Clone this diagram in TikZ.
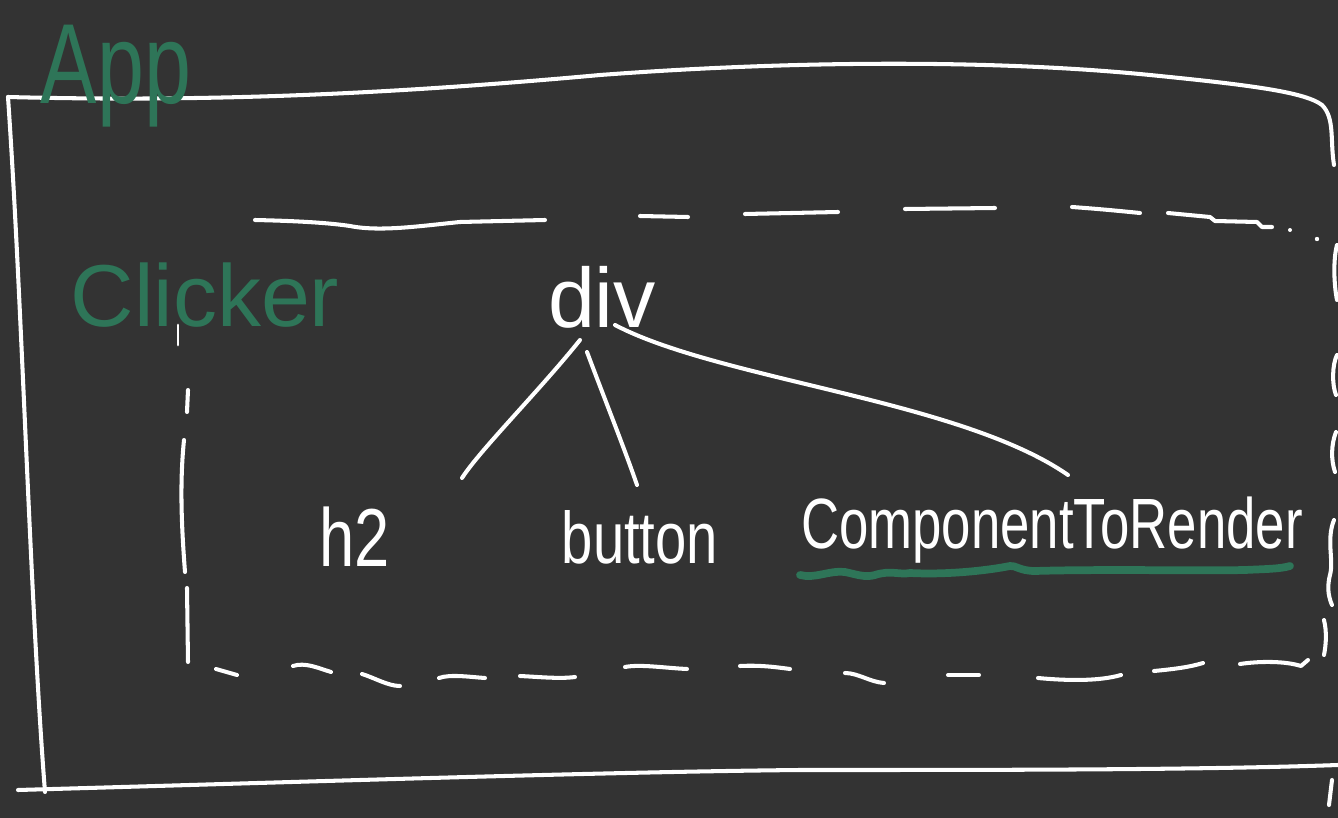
\documentclass[tikz,border=0pt]{standalone}
\usepackage{fontspec}
\setmainfont{Liberation Sans}
\usetikzlibrary{calc}
\definecolor{bg}{HTML}{333333}
\definecolor{gr}{HTML}{2E7558}
\begin{document}
\begin{tikzpicture}[x=0.01cm,y=-0.01cm,
  ink/.style={white, line width=1.15pt, line cap=round, line join=round},
  thinink/.style={white, line width=0.8pt, line cap=round, line join=round},
  greenink/.style={gr, line width=2.2pt, line cap=round, line join=round},
  lbl/.style={text=white, inner sep=0pt, anchor=center},
  glbl/.style={text=gr, inner sep=0pt, anchor=center}]
\fill[bg] (0,0) rectangle (1338,818);
\useasboundingbox (0,0) rectangle (1338,818);

% outer App box
\draw[ink] (8,97) .. controls (200,102) and (380,95) .. (600,75)
  .. controls (800,60) and (1000,60) .. (1150,75)
  .. controls (1250,85) and (1305,92) .. (1322,105)
  .. controls (1335,118) and (1330,140) .. (1334,165);
\draw[ink] (8,97) .. controls (22,300) and (30,600) .. (45,792);
\draw[ink] (18,790) .. controls (300,782) and (600,772) .. (800,770)
  .. controls (1000,770) and (1200,770) .. (1338,765);
\draw[ink] (1337,245) .. controls (1333,260) and (1334,285) .. (1337,300);
\draw[ink] (1337,355) .. controls (1332,365) and (1332,385) .. (1336,395);
\draw[ink] (1336,432) .. controls (1331,445) and (1331,460) .. (1335,472);
\draw[ink] (1334,520) .. controls (1326,540) and (1334,560) .. (1330,575)
  .. controls (1326,590) and (1330,600) .. (1332,605);
\draw[ink] (1332,780) -- (1329,805);

% dashed Clicker box: top
\draw[ink] (255,220) .. controls (300,221) and (330,223) .. (350,226)
  .. controls (380,232) and (420,226) .. (460,222) -- (545,220);
\draw[ink] (640,216) -- (688,217);
\draw[ink] (745,214) -- (838,212);
\draw[ink] (905,209) -- (995,208);
\draw[ink] (1072,207) .. controls (1100,209) and (1120,211) .. (1140,213);
\draw[ink] (1168,213) -- (1210,217) -- (1215,221) -- (1257,222) -- (1262,227) -- (1272,227);
\fill[white] (1290,230) circle (2) (1317,239) circle (2.2);
% left
\draw[thinink] (178,325) -- (178,345);
\draw[ink] (188,390) -- (187,412);
\draw[ink] (184,440) .. controls (180,480) and (181,520) .. (185,572);
\draw[ink] (187,588) -- (188,662);
% bottom
\draw[ink] (216,669) -- (237,675);
\draw[ink] (293,666) .. controls (305,662) and (318,668) .. (331,672);
\draw[ink] (362,674) .. controls (375,678) and (388,686) .. (400,686);
\draw[ink] (439,678) .. controls (450,674) and (470,677) .. (485,678);
\draw[ink] (520,676) .. controls (540,677) and (560,679) .. (575,677);
\draw[ink] (625,667) .. controls (640,664) and (665,668) .. (687,669);
\draw[ink] (740,666) .. controls (760,665) and (775,667) .. (790,669);
\draw[ink] (845,673) .. controls (858,673) and (870,682) .. (884,683);
\draw[ink] (948,675) -- (979,675);
\draw[ink] (1038,678) .. controls (1070,681) and (1100,681) .. (1121,675);
\draw[ink] (1154,671) .. controls (1175,669) and (1190,667) .. (1203,663);
\draw[ink] (1240,664) .. controls (1260,661) and (1285,661) .. (1301,666) -- (1308,660);
\draw[ink] (1324,620) .. controls (1327,632) and (1326,645) .. (1324,655);

% labels
\node[glbl] (app) at (116,76) {\fontsize{24}{28}\selectfont\scalebox{1}[1.35]{App}};
\node[glbl] (clicker) at (205,295) {\fontsize{25}{30}\selectfont Clicker};
\node[lbl] (div) at (602,297) {\fontsize{24}{28}\selectfont div};
\node[lbl] (h2) at (355,537) {\fontsize{18}{22}\selectfont\scalebox{1}[1.3]{h2}};
\node[lbl] (button) at (640,537) {\fontsize{16}{20}\selectfont\scalebox{1}[1.3]{button}};
\node[lbl] (ctr) at (1052,530) {\fontsize{15}{18}\selectfont\scalebox{1}[1.35]{ComponentToRender}};

% connectors
\coordinate (d1) at (580,340);
\coordinate (d2) at (587,352);
\coordinate (d3) at (615,325);
\coordinate (h2t) at (462,478);
\coordinate (bt) at (637,485);
\coordinate (ct) at (1068,475);
\draw[ink] (d1) .. controls (540,390) and (480,450) .. (h2t);
\draw[ink] (d2) .. controls (605,400) and (625,450) .. (bt);
\draw[ink] (d3) .. controls (720,380) and (960,400) .. (ct);

% green wavy underline
\draw[greenink] (800,575) .. controls (815,579) and (830,570) .. (845,572)
  .. controls (855,574) and (865,578) .. (875,575)
  .. controls (890,570) and (900,575) .. (910,573)
  .. controls (950,575) and (990,570) .. (1010,566)
  .. controls (1015,565) and (1020,571) .. (1035,571)
  .. controls (1100,569) and (1200,571) .. (1245,570)
  .. controls (1265,569) and (1280,569) .. (1290,566);
\end{tikzpicture}
\end{document}
